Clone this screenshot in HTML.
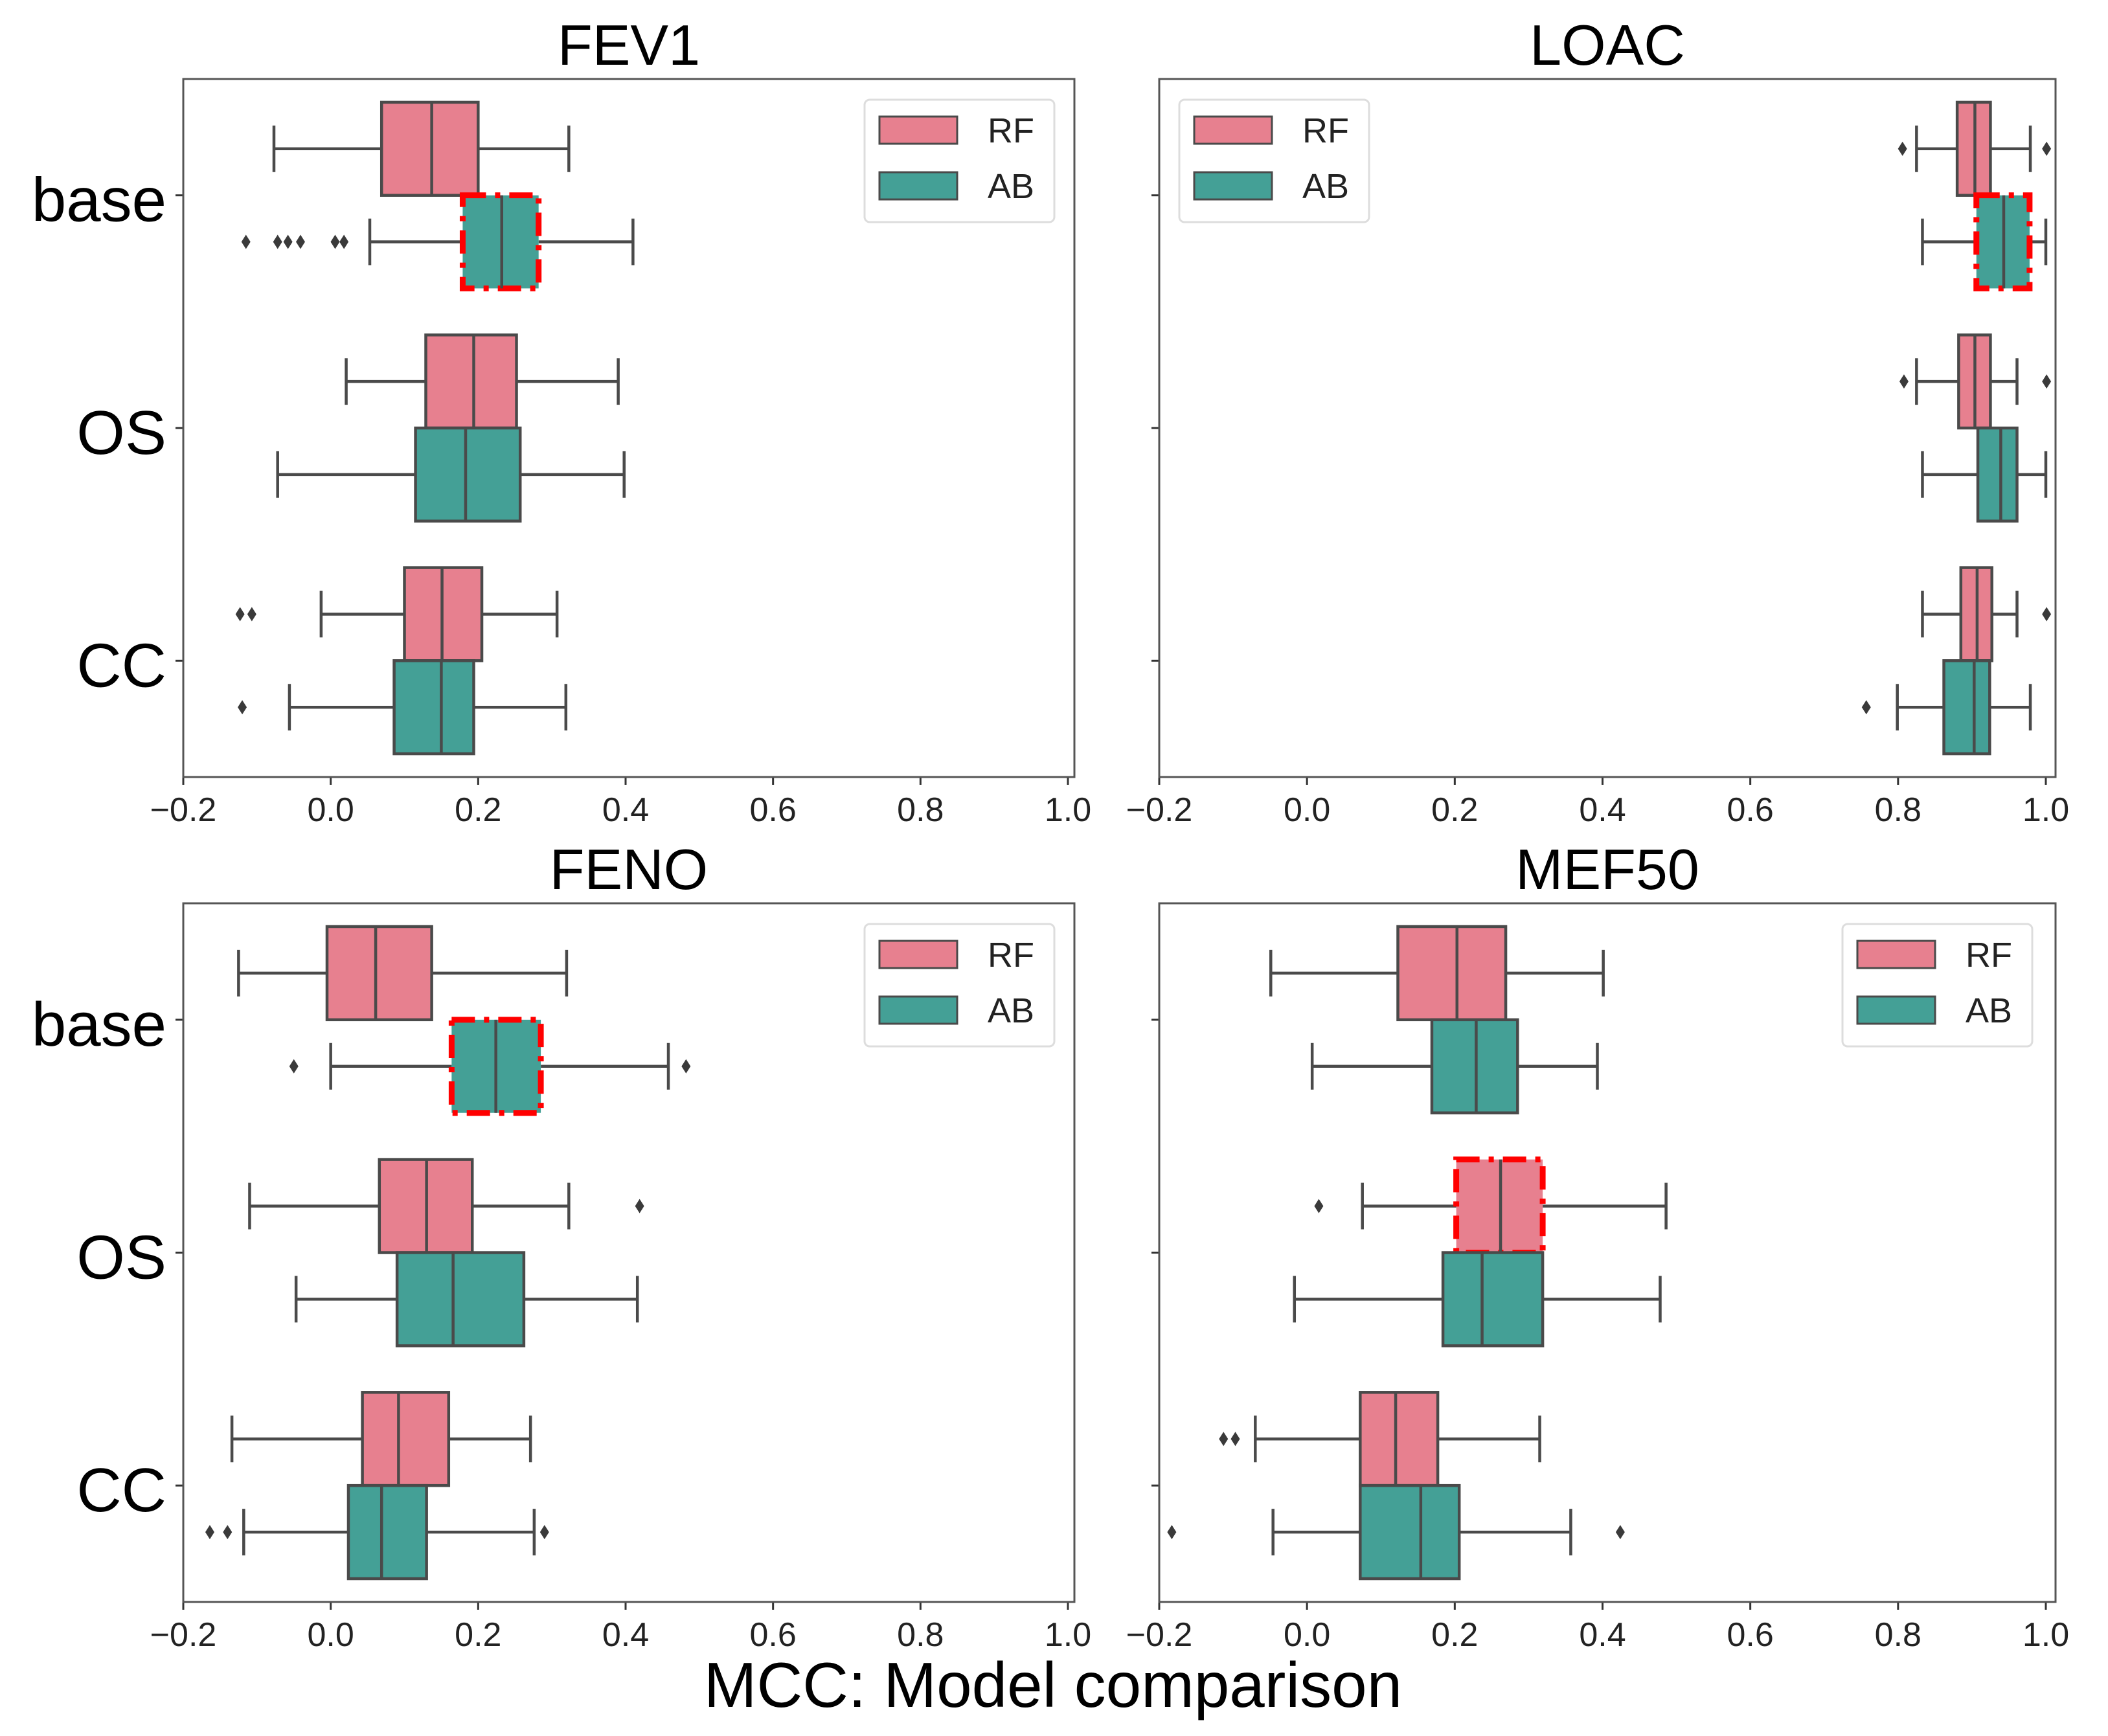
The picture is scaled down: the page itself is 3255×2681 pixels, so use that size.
<!DOCTYPE html>
<html><head><meta charset="utf-8">
<style>
html,body{margin:0;padding:0;background:#fff;}
svg{display:block;}
text{font-family:"Liberation Sans","DejaVu Sans",sans-serif;}
</style></head>
<body>
<svg id="chart" xmlns="http://www.w3.org/2000/svg" width="3255" height="2681" viewBox="0 0 3255 2681">
<rect width="3255" height="2681" fill="#fff"/>
<text x="1626" y="2636" font-size="98" text-anchor="middle" fill="#000">MCC: Model comparison</text>
</svg>
<script>
const categories = ["base","OS","CC"];
const xTicks = [-0.2,0.0,0.2,0.4,0.6,0.8,1.0];
const xTickLabels = ["\u22120.2","0.0","0.2","0.4","0.6","0.8","1.0"];
const seriesNames = ["RF","AB"];
// [whiskerLow, q1, median, q3, whiskerHigh] per category
const fev1RF = [[-0.077,0.069,0.137,0.200,0.323],[0.021,0.129,0.194,0.252,0.390],[-0.013,0.100,0.151,0.205,0.307]];
const fev1AB = [[0.053,0.179,0.232,0.282,0.410],[-0.072,0.115,0.183,0.257,0.398],[-0.056,0.086,0.150,0.194,0.319]];
const fev1RFOut = [[],[],[-0.123,-0.107]];
const fev1ABOut = [[-0.115,-0.072,-0.058,-0.041,0.006,0.018],[],[-0.120]];
const loacRF = [[0.825,0.880,0.904,0.925,0.979],[0.825,0.882,0.904,0.925,0.961],[0.833,0.885,0.907,0.927,0.961]];
const loacAB = [[0.833,0.906,0.943,0.978,1.000],[0.833,0.908,0.939,0.961,1.000],[0.799,0.862,0.903,0.924,0.979]];
const loacRFOut = [[0.806,1.001],[0.808,1.001],[1.001]];
const loacABOut = [[],[],[0.757]];
const fenoRF = [[-0.125,-0.005,0.061,0.137,0.320],[-0.110,0.066,0.130,0.192,0.323],[-0.134,0.043,0.092,0.160,0.271]];
const fenoAB = [[0.000,0.164,0.224,0.285,0.458],[-0.047,0.090,0.166,0.262,0.416],[-0.118,0.024,0.069,0.130,0.276]];
const fenoRFOut = [[],[0.419],[]];
const fenoABOut = [[-0.050,0.482],[],[-0.164,-0.140,0.290]];
const mef50RF = [[-0.049,0.123,0.203,0.269,0.401],[0.075,0.202,0.262,0.319,0.486],[-0.070,0.072,0.120,0.177,0.315]];
const mef50AB = [[0.007,0.169,0.229,0.285,0.393],[-0.017,0.184,0.237,0.319,0.478],[-0.046,0.072,0.154,0.206,0.357]];
const mef50RFOut = [[],[0.016],[-0.113,-0.097]];
const mef50ABOut = [[],[],[-0.183,0.424]];

const NS="http://www.w3.org/2000/svg";
const svg=document.getElementById('chart');
const PINK="#e7808f", TEAL="#44a096", LINE="#4a4a4a";
function mk(tag,attrs,parent){const e=document.createElementNS(NS,tag);for(const k in attrs)e.setAttribute(k,attrs[k]);(parent||svg).appendChild(e);return e;}

const panels=[
 {name:"fev1",title:"FEV1",left:283,right:1659,top:122,bottom:1200,x0:283,x1:1649,rf:fev1RF,ab:fev1AB,rfo:fev1RFOut,abo:fev1ABOut,hl:["ab",0],legend:[1335,154],ylabels:true},
 {name:"loac",title:"LOAC",left:1790,right:3174,top:122,bottom:1200,x0:1790,x1:3159,rf:loacRF,ab:loacAB,rfo:loacRFOut,abo:loacABOut,hl:["ab",0],legend:[1821,154],ylabels:false},
 {name:"feno",title:"FENO",left:283,right:1659,top:1395,bottom:2474,x0:283,x1:1649,rf:fenoRF,ab:fenoAB,rfo:fenoRFOut,abo:fenoABOut,hl:["ab",0],legend:[1335,1427],ylabels:true},
 {name:"mef50",title:"MEF50",left:1790,right:3174,top:1395,bottom:2474,x0:1790,x1:3159,rf:mef50RF,ab:mef50AB,rfo:mef50RFOut,abo:mef50ABOut,hl:["rf",1],legend:[2845,1427],ylabels:false}
];

panels.forEach(p=>{
  const g=mk('g',{});
  
  
  const xs=v=>p.x0+(v+0.2)/1.2*(p.x1-p.x0);
  const band=(p.bottom-p.top)/3;
  const ys=c=>p.top+band*(c+0.5);
  const t=mk('text',{x:(p.left+p.right)/2,y:p.top-22,'font-size':88,'text-anchor':'middle',fill:'#000'},g);
  t.textContent=p.title;
  
  
  xTicks.forEach((v,i)=>{
    const x=xs(v);
    const tk=mk('line',{x1:x,x2:x,y1:p.bottom,y2:p.bottom+12,stroke:'#333','stroke-width':3},g);
    
    
    const tl=mk('text',{x:x,y:p.bottom+68,'font-size':52,'text-anchor':'middle',fill:'#222'},g);
    tl.textContent=xTickLabels[i];
    
    
  });
  categories.forEach((c,i)=>{
    const y=ys(i);
    const tk=mk('line',{x1:p.left-12,x2:p.left,y1:y,y2:y,stroke:'#333','stroke-width':3},g);
    
    
    if(p.ylabels){
      const tl=mk('text',{x:p.left-26,y:y+40,'font-size':96,'text-anchor':'end',fill:'#000'},g);
      tl.textContent=c;
      
      
    }
  });
  const bh=band*0.4;
  function drawBox(st,outs,cy,fill,hl,label){
    const bg=mk('g',{},g);
    
    
    const [wl,q1,md,q3,wh]=st.map(xs);
    const lw=4.5;
    mk('line',{x1:wl,x2:q1,y1:cy,y2:cy,stroke:LINE,'stroke-width':lw},bg);
    mk('line',{x1:q3,x2:wh,y1:cy,y2:cy,stroke:LINE,'stroke-width':lw},bg);
    mk('line',{x1:wl,x2:wl,y1:cy-bh/4,y2:cy+bh/4,stroke:LINE,'stroke-width':lw},bg);
    mk('line',{x1:wh,x2:wh,y1:cy-bh/4,y2:cy+bh/4,stroke:LINE,'stroke-width':lw},bg);
    mk('rect',{x:q1,y:cy-bh/2,width:q3-q1,height:bh,fill:fill,stroke:hl?'red':LINE,'stroke-width':hl?9:lw,'stroke-dasharray':hl?'36,14,8,14':'none'},bg);
    mk('line',{x1:md,x2:md,y1:cy-bh/2,y2:cy+bh/2,stroke:LINE,'stroke-width':lw},bg);
    outs.forEach(o=>{
      const ox=xs(o);
      const d=mk('path',{d:`M${ox},${cy-11} L${ox+7},${cy} L${ox},${cy+11} L${ox-7},${cy} Z`,fill:'#3a3a3a'},bg);
      
      
    });
  }
  categories.forEach((c,i)=>{
    const y=ys(i);
    drawBox(p.rf[i],p.rfo[i],y-bh/2,PINK,p.hl[0]==='rf'&&p.hl[1]===i,'rf-box-'+c.toLowerCase());
    drawBox(p.ab[i],p.abo[i],y+bh/2,TEAL,p.hl[0]==='ab'&&p.hl[1]===i,'ab-box-'+c.toLowerCase());
  });
  const fr=mk('rect',{x:p.left,y:p.top,width:p.right-p.left,height:p.bottom-p.top,fill:'none',stroke:'#555','stroke-width':3},g);
  
  
  const [lx,ly]=p.legend;
  const lg=mk('g',{},g);
  
  
  mk('rect',{x:lx,y:ly,width:293,height:189,rx:8,fill:'#fff',stroke:'#ddd','stroke-width':3},lg);
  seriesNames.forEach((s,i)=>{
    const yy=ly+26+i*86;
    const e=mk('g',{},lg);
    
    
    mk('rect',{x:lx+23,y:yy,width:120,height:42,fill:i===0?PINK:TEAL,stroke:LINE,'stroke-width':3},e);
    const tx=mk('text',{x:lx+190,y:yy+40,'font-size':54,fill:'#222'},e);
    tx.textContent=s;
  });
});
</script>
</body></html>
